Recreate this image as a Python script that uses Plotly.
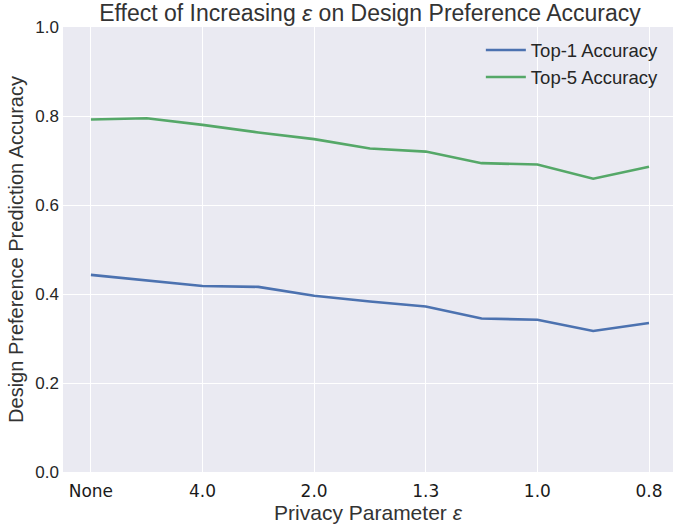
import plotly.graph_objects as go

x_index = [0, 1, 2, 3, 4, 5, 6, 7, 8, 9, 10]
top1 = [0.443, 0.430, 0.418, 0.416, 0.396, 0.383, 0.372, 0.345, 0.342, 0.317, 0.335]
top5 = [0.792, 0.795, 0.780, 0.763, 0.748, 0.727, 0.720, 0.694, 0.691, 0.659, 0.686]
tick_positions = [0, 2, 4, 6, 8, 10]
tick_labels = ["None", "4.0", "2.0", "1.3", "1.0", "0.8"]
y_ticks = [0.0, 0.2, 0.4, 0.6, 0.8, 1.0]

fig = go.Figure()
fig.add_trace(go.Scatter(x=x_index, y=top1, mode="lines", name="Top-1 Accuracy",
                         line=dict(color="#4C72B0", width=2.6)))
fig.add_trace(go.Scatter(x=x_index, y=top5, mode="lines", name="Top-5 Accuracy",
                         line=dict(color="#55A868", width=2.6)))

fig.update_layout(
    width=673, height=527,
    margin=dict(l=63, r=0, t=27, b=55, autoexpand=False),
    paper_bgcolor="white",
    plot_bgcolor="#EAEAF2",
    title=dict(text="Effect of Increasing <i>ε</i> on Design Preference Accuracy",
               x=370 / 673, xanchor="center", y=1 - 13 / 527, yanchor="middle",
               font=dict(family="Liberation Sans, Arial", size=23, color="#333333")),
    font=dict(family="Liberation Sans, Arial", color="#333333"),
    legend=dict(x=0.985, y=0.99, xanchor="right", yanchor="top",
                bgcolor="rgba(0,0,0,0)", font=dict(size=18.5, color="#262626"),
                itemwidth=40, tracegroupgap=2),
    showlegend=True,
)
fig.update_xaxes(
    range=[-0.5, 10.43], automargin=False,
    tickmode="array", tickvals=tick_positions, ticktext=tick_labels,
    tickfont=dict(family="DejaVu Sans", size=17, color="#1a1a1a"),
    ticklabelstandoff=7,
    showgrid=True, gridcolor="white", gridwidth=1.2,
    zeroline=False, showline=False, ticks="",
    title=dict(text="Privacy Parameter <i>ε</i>", standoff=0,
               font=dict(family="Liberation Sans, Arial", size=21, color="#333333")),
)
fig.update_yaxes(
    range=[0, 1.0], automargin=False,
    tickmode="array", tickvals=y_ticks, tickformat=".1f",
    tickfont=dict(family="Liberation Sans, Arial", size=17, color="#262626"),
    ticklabelstandoff=3,
    showgrid=True, gridcolor="white", gridwidth=1.2,
    zeroline=False, showline=False, ticks="", ticklen=0,
    title=dict(text="Design Preference Prediction Accuracy", standoff=6,
               font=dict(family="Liberation Sans, Arial", size=20, color="#333333")),
)

fig.write_html("out.html", config={"displayModeBar": False},
               post_script="document.body.style.margin='0';document.body.style.overflow='hidden';")
